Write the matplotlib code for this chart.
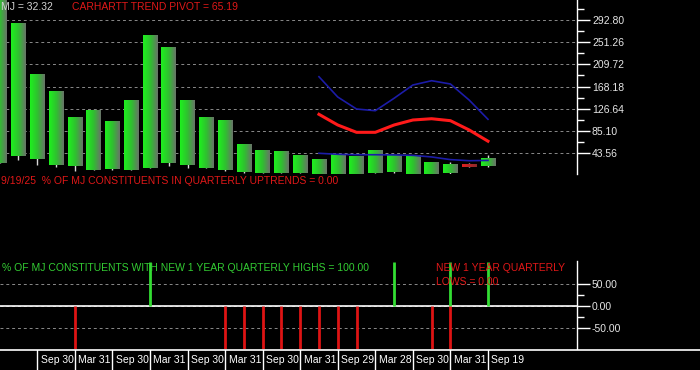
import numpy as np
import matplotlib
matplotlib.use('Agg')
import matplotlib.pyplot as plt
from matplotlib.colors import LinearSegmentedColormap

# --- Data (quarterly MJ candles) ---
body_hi = [345, 287.2, 191.7, 159.7, 108.9, 123.9, 103.2, 142.7, 265.2, 242.6,
           142.7, 110.7, 105.0, 59.9, 46.6, 44.8, 37.2, 31.6, 39.7, 36.0,
           46.7, 37.9, 37.9, 26.0, 20.9, 20.9, 32.32]
body_lo = [24.1, 37.9, 32.0, 21.0, 18.5, 11.0, 13.5, 10.9, 15.3, 24.7,
           20.3, 15.3, 10.9, 7.7, 4.7, 4.7, 4.7, 2.0, 2.0, 2.0,
           4.7, 6.6, 2.0, 2.0, 4.7, 16.0, 18.5]
wick_lo = [24.1, 29.8, 20.3, 17.1, 9.6, 11.0, 10.9, 10.9, 15.3, 19.0,
           15.3, 15.3, 9.0, 4.7, 4.7, 4.7, 4.7, 2.0, 2.0, 2.0,
           4.7, 4.7, 2.0, 2.0, 2.0, 16.0, 17.1]
wick_hi = [345, 287.2, 191.7, 159.7, 108.9, 123.9, 103.2, 142.7, 265.2, 242.6,
           142.7, 110.7, 105.0, 59.9, 46.6, 44.8, 37.2, 31.6, 39.7, 36.0,
           46.7, 37.9, 37.9, 26.0, 25.4, 23.5, 39.7]
bar_up = [True] * 25 + [False, True]

# Carhartt trend pivot bands (last 10 quarters)
band_start = 17
band_upper = [186.6, 148.4, 125.8, 122.6, 146.0, 171.0, 179.1, 172.9, 142.6, 106.4]
band_pivot = [115.8, 95.7, 81.9, 81.9, 95.7, 105.1, 107.5, 103.8, 86.3, 65.19]
band_lower = [42.4, 40.5, 39.7, 39.7, 39.3, 38.5, 35.5, 30.5, 28.4, 29.0]

# % of constituents making new 1 year quarterly highs / lows
new_highs = [0, 0, 0, 0, 0, 0, 0, 0, 100, 0, 0, 0, 0, 0, 0, 0, 0, 0, 0, 0,
             0, 100, 0, 0, 100, 0, 100]
new_lows = [0, 0, 0, 0, -100, 0, 0, 0, 0, 0, 0, 0, -100, -100, -100, -100, -100,
            -100, -100, -100, 0, 0, 0, -100, -100, 0, 0]

date_idx = [2, 4, 6, 8, 10, 12, 14, 16, 18, 20, 22, 24, 26]
date_lbl = ['Sep 30', 'Mar 31', 'Sep 30', 'Mar 31', 'Sep 30', 'Mar 31', 'Sep 30',
            'Mar 31', 'Sep 29', 'Mar 28', 'Sep 30', 'Mar 31', 'Sep 19']

price_ticks = [43.56, 85.10, 126.64, 168.18, 209.72, 251.26, 292.80]

# --- Layout helpers (pixels on a 700x370 canvas) ---
W, H = 700, 370
AX_RIGHT = 577
PX_PER_BAR = 18.78
X0 = 0.3 / PX_PER_BAR


def box(x0, y0, x1, y1):
    return [x0 / W, 1 - y1 / H, (x1 - x0) / W, (y1 - y0) / H]


def fpos(x, y):
    return x / W, 1 - y / H


plt.rcParams['font.family'] = ['Liberation Sans', 'DejaVu Sans']
plt.rcParams['font.size'] = 7.5

fig = plt.figure(figsize=(7, 3.7), dpi=100, facecolor='black')
xs = np.arange(len(body_hi))
xlim = (X0, X0 + AX_RIGHT / PX_PER_BAR)


def style_axis(ax):
    ax.set_facecolor('black')
    for s in ['top', 'left', 'bottom']:
        ax.spines[s].set_visible(False)
    ax.spines['right'].set_color('white')
    ax.spines['right'].set_linewidth(1)
    ax.yaxis.tick_right()
    ax.tick_params(axis='y', which='major', colors='white', length=9, width=1,
                   labelcolor='#e6e6e6', pad=1.8)
    ax.tick_params(axis='y', which='minor', colors='white', length=5, width=1)
    ax.set_xticks([])
    ax.set_xlim(*xlim)


# --- Price panel ---
ax = fig.add_axes(box(0, 0, AX_RIGHT, 174))
style_axis(ax)
ax.set_ylim(3.4, 331.1)
ax.set_yticks(price_ticks)
ax.set_yticklabels(['%.2f' % t for t in price_ticks])
ax.set_yticks([t + 20.77 for t in price_ticks], minor=True)
ax.grid(axis='y', which='major', color='#8a8a8a', ls=(0, (3, 3)), lw=0.7)

green_cm = LinearSegmentedColormap.from_list('g', ['#1ef01e', '#2fc02f', '#687468'])
red_cm = LinearSegmentedColormap.from_list('r', ['#e02020', '#8a2a2a'])
grad = np.linspace(0, 1, 32).reshape(1, -1)
bw = 0.77
for i in xs:
    ax.vlines(i, wick_lo[i], wick_hi[i], color='#d8d8d8', lw=1, zorder=2)
    ax.imshow(grad, cmap=green_cm if bar_up[i] else red_cm, aspect='auto',
              extent=[i - bw / 2, i + bw / 2, body_lo[i], body_hi[i]],
              zorder=3, interpolation='bilinear')
ax.set_xlim(*xlim)
ax.set_ylim(3.4, 331.1)

bx = np.arange(band_start, band_start + len(band_pivot))
ax.plot(bx, band_upper, color='#1c1ca8', lw=1.2, zorder=4)
ax.plot(bx, band_lower, color='#1c1ca8', lw=1.2, zorder=4)
ax.plot(bx, band_pivot, color='#ff1a1a', lw=2.2, zorder=4)

fig.text(*fpos(1, 7), 'MJ = 32.32', color='#d2d2d2', va='center', ha='left')
fig.text(*fpos(72, 7), 'CARHARTT TREND PIVOT = 65.19', color='#e01818',
         va='center', ha='left')

# --- Uptrends panel (empty) ---
fig.text(*fpos(1, 181), '9/19/25  % OF MJ CONSTITUENTS IN QUARTERLY UPTRENDS = 0.00',
         color='#e01818', va='center', ha='left')

# --- New highs / lows panel ---
ax2 = fig.add_axes(box(0, 261, AX_RIGHT, 349))
style_axis(ax2)
ax2.set_ylim(-97.7, 102.3)
ax2.set_yticks([-50, 0, 50])
ax2.set_yticklabels(['-50.00', '0.00', '50.00'])
ax2.set_yticks([-25, 25], minor=True)
ax2.grid(axis='y', which='major', color='#8a8a8a', ls=(0, (3, 3)), lw=0.7)
ax2.axhline(0, color='white', lw=1.2, zorder=3)
hi = np.array(new_highs)
lo = np.array(new_lows)
ax2.vlines(xs[hi != 0], 0, hi[hi != 0], color='#33dd33', lw=2, zorder=4)
ax2.vlines(xs[lo != 0], 0, lo[lo != 0], color='#dd1414', lw=2, zorder=4)

fig.text(*fpos(2, 268), '% OF MJ CONSTITUENTS WITH NEW 1 YEAR QUARTERLY HIGHS = 100.00',
         color='#33cc33', va='center', ha='left')
fig.text(*fpos(436, 268), 'NEW 1 YEAR QUARTERLY', color='#e01818', va='center', ha='left')
fig.text(*fpos(436, 282), 'LOWS = 0.00', color='#e01818', va='center', ha='left')

# --- Date strip ---
ax3 = fig.add_axes(box(0, 349.5, W, H))
ax3.set_facecolor('black')
ax3.set_xlim(X0, X0 + W / PX_PER_BAR)
ax3.set_ylim(0, 1)
ax3.set_xticks([])
ax3.set_yticks([])
for s in ['left', 'right', 'bottom']:
    ax3.spines[s].set_visible(False)
ax3.spines['top'].set_color('white')
ax3.spines['top'].set_linewidth(1.2)
for i, lbl in zip(date_idx, date_lbl):
    ax3.axvline(i, color='white', lw=1)
    ax3.text(i + 3.5 / PX_PER_BAR, 0.48, lbl, color='white', va='center', ha='left')

fig.savefig('out.png', dpi=100, facecolor='black')
